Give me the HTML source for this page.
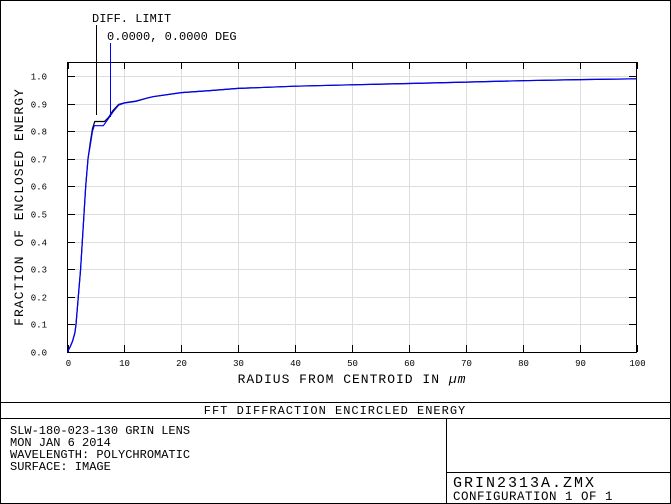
<!DOCTYPE html>
<html><head><meta charset="utf-8"><style>
body{margin:0;background:#fff}
svg{display:block;font-family:"Liberation Mono",monospace}
</style></head><body>
<svg width="671" height="504" viewBox="0 0 671 504">
<rect x="0.5" y="0.5" width="670" height="503" fill="#fff" stroke="#000"/>
<g id="grid"></g>
<g id="ticks"></g>
<rect x="67.5" y="62.5" width="569" height="290" fill="none" stroke="#000"/>
<g id="series"></g>
<g id="labels" font-size="9"></g>
<text x="23" y="207" font-size="13" text-anchor="middle" transform="rotate(-90 23 207)" letter-spacing="1">FRACTION OF ENCLOSED ENERGY</text>
<text x="352" y="383" font-size="13" text-anchor="middle" letter-spacing="1">RADIUS FROM CENTROID IN <tspan font-style="italic">µm</tspan></text>
<text x="92" y="22" font-size="12">DIFF. LIMIT</text>
<text x="107" y="40" font-size="12">0.0000, 0.0000 DEG</text>
<line x1="96.5" y1="25" x2="96.5" y2="115" stroke="#000"/>
<line x1="110.5" y1="43" x2="110.5" y2="117" stroke="#00f"/>
<line x1="0" y1="402.5" x2="671" y2="402.5" stroke="#000"/>
<line x1="0" y1="418.5" x2="671" y2="418.5" stroke="#000"/>
<line x1="446.5" y1="418" x2="446.5" y2="504" stroke="#000"/>
<line x1="446" y1="472.5" x2="671" y2="472.5" stroke="#000"/>
<text x="335" y="414" font-size="12" text-anchor="middle" letter-spacing="1">FFT DIFFRACTION ENCIRCLED ENERGY</text>
<g font-size="12">
<text x="10" y="434">SLW-180-023-130 GRIN LENS</text>
<text x="10" y="446">MON JAN 6 2014</text>
<text x="10" y="458">WAVELENGTH: POLYCHROMATIC</text>
<text x="10" y="470">SURFACE: IMAGE</text>
</g>
<text x="453" y="487" font-size="15" letter-spacing="2">GRIN2313A.ZMX</text>
<text x="453" y="500" font-size="12.5" letter-spacing="0.5">CONFIGURATION 1 OF 1</text>
</svg>
<script>
const xTicks=[0,10,20,30,40,50,60,70,80,90,100];
const yTicks=[0,0.1,0.2,0.3,0.4,0.5,0.6,0.7,0.8,0.9,1.0];
const radius=[0,0.5,0.9,1.3,1.5,1.9,2.3,2.6,2.9,3.2,3.6,4.0,4.4,4.7,6.3,7,8,9,10,12,14,15,20,25,30,40,50,60,70,80,90,100];
const polyEE=[0,0.02,0.04,0.07,0.1,0.2,0.3,0.4,0.5,0.6,0.7,0.75,0.8,0.82,0.82,0.84,0.87,0.895,0.902,0.908,0.92,0.925,0.94,0.947,0.955,0.963,0.968,0.973,0.978,0.983,0.987,0.99];
const diffRadius=[0,0.5,0.9,1.3,1.5,1.9,2.3,2.6,2.9,3.2,3.6,4.0,4.4,4.8,6.5,7.2,8,9,10,12,14,15,20,25,30,40,50,60,70,80,90,100];
const diffEE=[0,0.02,0.04,0.07,0.1,0.2,0.3,0.4,0.5,0.6,0.7,0.76,0.81,0.835,0.835,0.85,0.875,0.897,0.903,0.909,0.92,0.925,0.94,0.947,0.955,0.963,0.968,0.973,0.978,0.983,0.987,0.99];
const X=v=>67.5+v*5.69, Y=v=>352-v*276;
const NS='http://www.w3.org/2000/svg';
function mk(t,a,p){const e=document.createElementNS(NS,t);for(const k in a)e.setAttribute(k,a[k]);document.getElementById(p).appendChild(e);return e;}
xTicks.forEach(t=>{
 const x=Math.round(X(t))+0.5;
 if(t>0&&t<100){const g=mk('line',{x1:x,y1:63,x2:x,y2:352,stroke:'#ddd'},'grid');
 
 }
 mk('line',{x1:x,y1:352,x2:x,y2:345,stroke:'#000'},'ticks');
 mk('line',{x1:x,y1:62,x2:x,y2:69,stroke:'#000'},'ticks');
 const l=mk('text',{x:x,y:366,'text-anchor':'middle'},'labels');l.textContent=String(t);
 
 
});
yTicks.forEach(t=>{
 const y=Math.round(Y(t))+0.5;
 if(t>0){const g=mk('line',{x1:68,y1:y,x2:636,y2:y,stroke:'#ddd'},'grid');
 
 }
 mk('line',{x1:67,y1:y,x2:75,y2:y,stroke:'#000'},'ticks');
 mk('line',{x1:637,y1:y,x2:629,y2:y,stroke:'#000'},'ticks');
 const l=mk('text',{x:47,y:y+3,'text-anchor':'end'},'labels');l.textContent=t.toFixed(1);
 
 
});
const d1=diffRadius.map((r,i)=>(i?'L':'M')+X(r).toFixed(1)+' '+Y(diffEE[i]).toFixed(1)).join(' ');
const p1=mk('path',{d:d1,fill:'none',stroke:'#000','stroke-width':1.2},'series');


const d2=radius.map((r,i)=>(i?'L':'M')+X(r).toFixed(1)+' '+Y(polyEE[i]).toFixed(1)).join(' ');
const p2=mk('path',{d:d2,fill:'none',stroke:'#00f','stroke-width':1.2},'series');


</script>
</body></html>
